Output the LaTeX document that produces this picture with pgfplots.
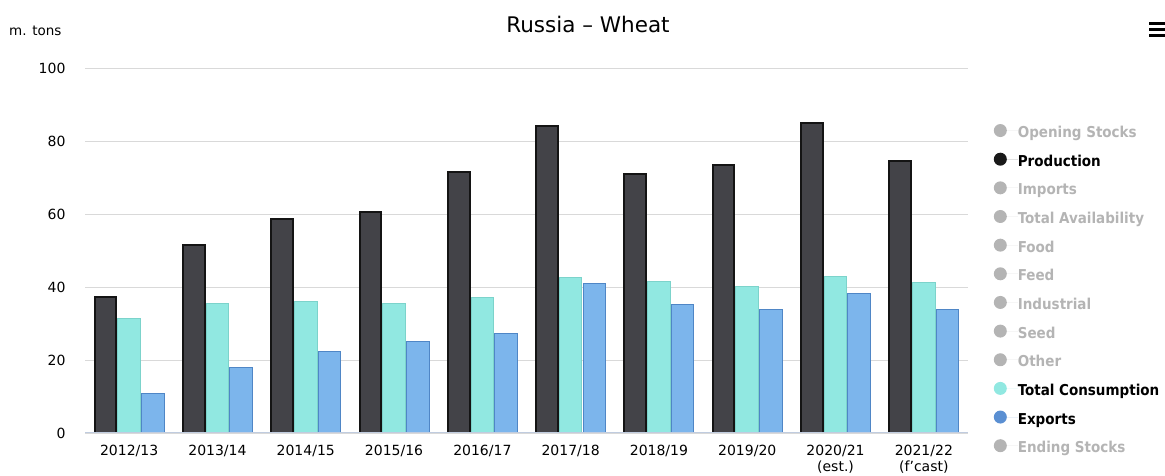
\documentclass[border=0pt]{standalone}
\usepackage{pgfplots}
\pgfplotsset{compat=1.18}
\usepackage{fontspec}
\setmainfont{DejaVu Sans}
\newfontfamily\legfont{DejaVu Sans Condensed}

\definecolor{prodfill}{HTML}{434348}
\definecolor{prodline}{HTML}{141414}
\definecolor{consfill}{HTML}{91E8E1}
\definecolor{consline}{HTML}{7CD3CB}
\definecolor{expfill}{HTML}{7CB5EC}
\definecolor{expline}{HTML}{4F86C6}
\definecolor{gridc}{HTML}{D9D9D9}
\definecolor{axisc}{HTML}{C0CCDF}
\definecolor{offc}{HTML}{B4B4B4}
\definecolor{legexp}{HTML}{5A8FD2}

\begin{document}
\begin{tikzpicture}
\useasboundingbox (0pt,0pt) rectangle (1165pt,476pt);

\begin{axis}[
  at={(85pt,43pt)}, anchor=south west,
  scale only axis,
  width=883pt, height=365pt,
  xmin=-0.5, xmax=9.5,
  ymin=0, ymax=100,
  ytick={0,20,40,60,80,100},
  xtick={0,...,9},
  xticklabels={2012/13,2013/14,2014/15,2015/16,2016/17,2017/18,2018/19,2019/20,{2020/21\\(est.)},{2021/22\\(f'cast)}},
  xticklabel style={font=\fontsize{14}{16}\selectfont, align=center, yshift=-9pt},
  yticklabel style={font=\fontsize{14}{15}\selectfont, xshift=-16pt},
  /pgf/number format/assume math mode=true,
  major tick length=0pt,
  ymajorgrids,
  grid style={gridc, line width=0.8pt},
  axis line style={draw=none},
  xtick style={draw=none},
  ytick style={draw=none},
  ybar,
  legend cell align=left,
  legend style={
    at={(axis description cs:1.029,0.847)}, anchor=north west,
    draw=none, fill=none, inner sep=0pt,
    font=\legfont\bfseries\fontsize{15}{16}\selectfont,
    row sep=12.15pt, column sep=0pt,
    nodes={inner sep=0pt, text height=11pt, text depth=3pt},
  },
  legend image code/.code={\fill (6.5pt,3pt) circle (6.5pt); \path (0pt,3pt) -- (24pt,3pt);},
]

% Production
\addplot[fill=prodfill, draw=prodline, line width=2pt, bar width=0.245, bar shift=-0.268, forget plot]
  coordinates {(0,37.2) (1,51.6) (2,58.5) (3,60.6) (4,71.6) (5,84.2) (6,71.0) (7,73.3) (8,84.8) (9,74.6)};
% Total Consumption
\addplot[fill=consfill, draw=consline, line width=1pt, bar width=0.256, bar shift=0, forget plot]
  coordinates {(0,31.3) (1,35.4) (2,36.1) (3,35.4) (4,37.1) (5,42.6) (6,41.6) (7,40.2) (8,42.8) (9,41.3)};
% Exports
\addplot[fill=expfill, draw=expline, line width=1pt, bar width=0.256, bar shift=0.268, forget plot]
  coordinates {(0,10.9) (1,18.0) (2,22.2) (3,25.0) (4,27.2) (5,40.9) (6,35.3) (7,33.7) (8,38.1) (9,33.7)};

\draw[axisc, line width=1.2pt] (rel axis cs:0,0) -- (rel axis cs:1,0);

\addlegendimage{fill=offc, draw=none}
\addlegendentry{\textcolor{offc}{Opening Stocks}}
\addlegendimage{fill=black!90, draw=none}
\addlegendentry{Production}
\addlegendimage{fill=offc, draw=none}
\addlegendentry{\textcolor{offc}{Imports}}
\addlegendimage{fill=offc, draw=none}
\addlegendentry{\textcolor{offc}{Total Availability}}
\addlegendimage{fill=offc, draw=none}
\addlegendentry{\textcolor{offc}{Food}}
\addlegendimage{fill=offc, draw=none}
\addlegendentry{\textcolor{offc}{Feed}}
\addlegendimage{fill=offc, draw=none}
\addlegendentry{\textcolor{offc}{Industrial}}
\addlegendimage{fill=offc, draw=none}
\addlegendentry{\textcolor{offc}{Seed}}
\addlegendimage{fill=offc, draw=none}
\addlegendentry{\textcolor{offc}{Other}}
\addlegendimage{fill=consfill, draw=none}
\addlegendentry{Total Consumption}
\addlegendimage{fill=legexp, draw=none}
\addlegendentry{Exports}
\addlegendimage{fill=offc, draw=none}
\addlegendentry{\textcolor{offc}{Ending Stocks}}
\end{axis}

\node[font=\fontsize{21.5}{24}\selectfont, anchor=base] at (588pt,443pt) {Russia -- Wheat};
\node[font=\fontsize{13.5}{15}\selectfont, anchor=base west, inner sep=0pt] at (9pt,440pt) {m. tons};
\fill[black] (1149pt,451pt) rectangle (1165pt,454pt);
\fill[black] (1149pt,445pt) rectangle (1165pt,448pt);
\fill[black] (1149pt,439pt) rectangle (1165pt,442pt);
\end{tikzpicture}
\end{document}
